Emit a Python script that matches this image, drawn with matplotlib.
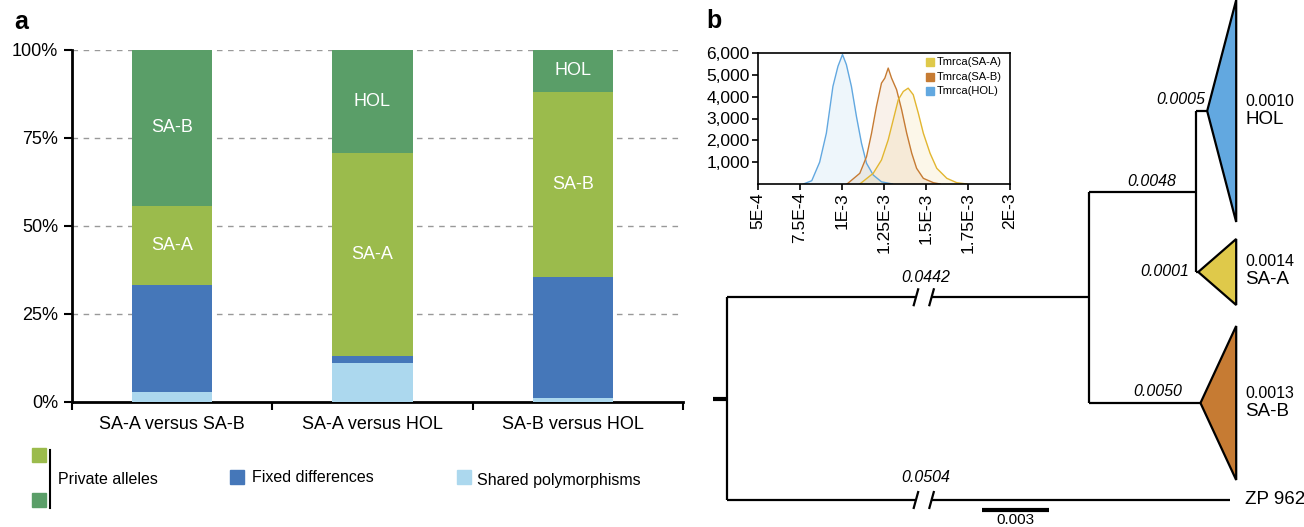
import matplotlib.pyplot as plt
from matplotlib.patches import Polygon, Rectangle

plt.rcParams['font.family'] = ['Liberation Sans', 'DejaVu Sans']

# --- panel a: share of sites per comparison (%) ---
comparisons = ['SA-A versus SA-B', 'SA-A versus HOL', 'SA-B versus HOL']
shared = [2.7, 11.2, 1.1]
fixed = [30.5, 1.9, 34.5]
private_low = [22.5, 57.5, 52.5]
private_high = [44.3, 29.4, 11.9]
low_names = ['SA-A', 'SA-A', 'SA-B']
high_names = ['SA-B', 'HOL', 'HOL']

# --- panel b inset: Tmrca posterior histograms ---
hol_t = [0.77e-3, 0.82e-3, 0.867e-3, 0.907e-3, 0.946e-3, 0.976e-3, 1.003e-3, 1.026e-3,
         1.056e-3, 1.086e-3, 1.116e-3, 1.146e-3, 1.186e-3, 1.235e-3, 1.30e-3]
hol_n = [0, 150, 1000, 2330, 4470, 5390, 5930, 5470, 4470, 3090, 1870, 950, 410, 100, 0]
sab_t = [1.03e-3, 1.106e-3, 1.146e-3, 1.176e-3, 1.205e-3, 1.235e-3, 1.255e-3, 1.275e-3,
         1.295e-3, 1.325e-3, 1.355e-3, 1.385e-3, 1.415e-3, 1.444e-3, 1.484e-3, 1.544e-3, 1.584e-3]
sab_n = [0, 490, 1250, 2330, 3550, 4620, 4850, 5310, 4850, 4320, 3400, 2330, 1410, 720, 260, 60, 0]
saa_t = [1.106e-3, 1.186e-3, 1.235e-3, 1.275e-3, 1.305e-3, 1.335e-3, 1.365e-3, 1.394e-3,
         1.424e-3, 1.454e-3, 1.484e-3, 1.524e-3, 1.564e-3, 1.624e-3, 1.683e-3, 1.743e-3]
saa_n = [0, 490, 1100, 2020, 2940, 3860, 4240, 4390, 4090, 3250, 2330, 1410, 720, 260, 60, 0]
hist_ticks = [5e-4, 7.5e-4, 1e-3, 1.25e-3, 1.5e-3, 1.75e-3, 2e-3]
hist_tick_labels = ['5E-4', '7.5E-4', '1E-3', '1.25E-3', '1.5E-3', '1.75E-3', '2E-3']
count_ticks = [1000, 2000, 3000, 4000, 5000, 6000]

# --- panel b tree: branch lengths and clade labels ---
len_ingroup = 0.0442
len_outgroup = 0.0504
len_hol_saa = 0.0048
len_sab = 0.0050
len_hol = 0.0005
len_saa = 0.0001
clades = ['HOL', 'SA-A', 'SA-B']
clade_div = ['0.0010', '0.0014', '0.0013']
outgroup = 'ZP 962'
scale_len = 0.003

c_dgreen = '#5a9e68'
c_lgreen = '#9bbb4c'
c_blue = '#4577b9'
c_lblue = '#acd8ee'
c_hol = '#62a8e0'
c_saa = '#dfc94a'
c_sab = '#c67b33'

fig = plt.figure(figsize=(13.04, 5.27), dpi=100)
W, H = 1304, 527

# ---------------- panel a ----------------
ax = fig.add_axes([72 / W, 1 - 402 / H, 611 / W, 352 / H])
x = range(len(comparisons))
bw = 0.4
b1 = shared
b2 = [s + f for s, f in zip(shared, fixed)]
b3 = [a + p for a, p in zip(b2, private_low)]
ax.bar(x, shared, bw, color=c_lblue, zorder=3)
ax.bar(x, fixed, bw, bottom=b1, color=c_blue, zorder=3)
ax.bar(x, private_low, bw, bottom=b2, color=c_lgreen, zorder=3)
ax.bar(x, private_high, bw, bottom=b3, color=c_dgreen, zorder=3)
for i in x:
    ax.text(i, b2[i] + private_low[i] / 2, low_names[i], color='white', ha='center', va='center',
            fontsize=13, zorder=4)
    ax.text(i, b3[i] + private_high[i] / 2, high_names[i], color='white', ha='center', va='center',
            fontsize=13, zorder=4)
ax.set_xlim(-0.5, 2.55)
ax.set_ylim(0, 100)
ax.set_yticks([0, 25, 50, 75, 100])
ax.set_yticklabels(['0%', '25%', '50%', '75%', '100%'], fontsize=13)
ax.set_xticks(list(x))
ax.set_xticklabels(comparisons, fontsize=13)
ax.set_xticks([-0.5, 0.5, 1.5, 2.55], minor=True)
ax.tick_params(axis='x', which='major', length=0, pad=10)
ax.tick_params(axis='x', which='minor', length=6, width=1.5, direction='out')
ax.tick_params(axis='y', length=6, width=1.5, pad=4)
for yv in [25, 50, 75, 100]:
    ax.axhline(yv, color='#999999', lw=1, ls=(0, (4, 4)), zorder=1)
for s in ['top', 'right']:
    ax.spines[s].set_visible(False)
ax.spines['left'].set_linewidth(2)
ax.spines['bottom'].set_linewidth(2)
ax.spines['left'].set_zorder(5)

# overlay in pixel coordinates for legend and panel letters
ov = fig.add_axes([0, 0, 1, 1], zorder=-1)
ov.set_xlim(0, W)
ov.set_ylim(H, 0)
ov.axis('off')
ov.add_patch(Rectangle((32, 448), 14, 14, color=c_lgreen))
ov.add_patch(Rectangle((32, 493), 14, 14, color=c_dgreen))
ov.plot([50, 50], [450, 508], color='black', lw=1.5)
ov.text(58, 479, 'Private alleles', fontsize=11.5, va='center')
ov.add_patch(Rectangle((230, 470), 14, 14, color=c_blue))
ov.text(252, 478, 'Fixed differences', fontsize=11.5, va='center')
ov.add_patch(Rectangle((457, 470), 14, 14, color=c_lblue))
ov.text(477, 481, 'Shared polymorphisms', fontsize=11.5, va='center')
ov.text(14, 22, 'a', fontsize=18, fontweight='bold', va='center')
ov.text(706, 21, 'b', fontsize=18, fontweight='bold', va='center')

# ---------------- panel b tree ----------------
tr = fig.add_axes([700 / W, 0, 604 / W, 1])
px_per_unit = 67 / scale_len
tr.set_xlim(-27 / px_per_unit, 577 / px_per_unit)
tr.set_ylim(H, 0)
tr.axis('off')

# layout (display) choices
disp_ingroup = 0.0162   # broken branch drawn shorter
disp_outgroup = 0.0225
tip_x = 0.0228
y_hol, y_saa, y_sab, y_zp = 111, 272, 403, 500
half_h = {'HOL': 111, 'SA-A': 33, 'SA-B': 77}
brk_a, brk_b = 0.00846, 0.00916
lw = 1.6

y_n1 = (y_hol + y_saa) / 2
y_in = (y_n1 + y_sab) / 2
y_root = (y_in + y_zp) / 2

x_in = disp_ingroup
x_n1 = x_in + len_hol_saa
x_hol = x_n1 + len_hol
x_saa = x_n1 + len_saa
x_sab = x_in + len_sab
x_zp = disp_outgroup

k = dict(color='black', lw=lw, solid_capstyle='butt')
tr.plot([-14 / px_per_unit, 0], [y_root, y_root], color='black', lw=3, solid_capstyle='butt')
tr.plot([0, 0], [y_in, y_zp], **k)
for yb, xe in [(y_in, x_in), (y_zp, x_zp)]:
    tr.plot([0, brk_a], [yb, yb], **k)
    tr.plot([brk_b, xe], [yb, yb], **k)
    for xb in (brk_a, brk_b):
        tr.plot([xb - 2.5 / px_per_unit, xb + 2.5 / px_per_unit], [yb + 9, yb - 9], **k)
tr.plot([x_in, x_in], [y_n1, y_sab], **k)
tr.plot([x_in, x_n1], [y_n1, y_n1], **k)
tr.plot([x_in, x_sab], [y_sab, y_sab], **k)
tr.plot([x_n1, x_n1], [y_hol, y_saa], **k)
tr.plot([x_n1, x_hol], [y_hol, y_hol], **k)
tr.plot([x_n1, x_saa], [y_saa, y_saa], **k)

for name, xa, ya, col in [('HOL', x_hol, y_hol, c_hol), ('SA-A', x_saa, y_saa, c_saa),
                          ('SA-B', x_sab, y_sab, c_sab)]:
    h = half_h[name]
    tr.add_patch(Polygon([(xa, ya), (tip_x, ya - h), (tip_x, ya + h)], closed=True,
                         facecolor=col, edgecolor='black', lw=lw, joinstyle='miter'))

tr.text((brk_a + brk_b) / 2 + 0.0001, y_in - 20, f'{len_ingroup:.4f}', style='italic', fontsize=11.5, ha='center', va='center')
tr.text((brk_a + brk_b) / 2 + 0.0001, y_zp - 22, f'{len_outgroup:.4f}', style='italic', fontsize=11.5, ha='center', va='center')
tr.text(x_n1 - 0.0009, y_n1 - 10, f'{len_hol_saa:.4f}', style='italic', fontsize=11.5, ha='right', va='center')
tr.text(x_sab - 0.0008, y_sab - 11, f'{len_sab:.4f}', style='italic', fontsize=11.5, ha='right', va='center')
tr.text(x_hol - 0.0001, y_hol - 11, f'{len_hol:.4f}', style='italic', fontsize=11.5, ha='right', va='center')
tr.text(x_saa - 0.0004, y_saa, f'{len_saa:.4f}', style='italic', fontsize=11.5, ha='right', va='center')

for name, yt, dv in zip(clades, [y_hol, y_saa, y_sab], clade_div):
    tr.text(tip_x + 0.0004, yt - 10, dv, fontsize=11.5, ha='left', va='center')
    tr.text(tip_x + 0.0004, yt + 8, name, fontsize=13.5, ha='left', va='center')
tr.text(x_zp + 0.00068, y_zp, outgroup, fontsize=13.5, ha='left', va='center')

sb_x = 0.01142
tr.plot([sb_x, sb_x + scale_len], [510, 510], color='black', lw=3, solid_capstyle='butt')
tr.text(sb_x + scale_len / 2, 520, f'{scale_len:.3f}', fontsize=11, ha='center', va='center')

# ---------------- panel b inset ----------------
ins = fig.add_axes([758 / W, 1 - 184 / H, 252 / W, 131 / H], zorder=5)
for t, n, col in [(hol_t, hol_n, c_hol), (sab_t, sab_n, c_sab), (saa_t, saa_n, '#e2b630')]:
    ins.fill_between(t, n, color=col, alpha=0.1, lw=0)
    ins.plot(t, n, color=col, lw=1)
ins.set_xlim(5e-4, 2e-3)
ins.set_ylim(0, 6000)
ins.set_xticks(hist_ticks)
ins.set_xticklabels(hist_tick_labels, rotation=90, fontsize=12.5)
ins.set_yticks(count_ticks)
ins.set_yticklabels([f'{v:,}' for v in count_ticks], fontsize=12.5)
ins.tick_params(length=4, width=1.2, pad=2)
for s in ins.spines.values():
    s.set_linewidth(1.2)
for lab, col, yy in [('Tmrca(SA-A)', c_saa, 5590), ('Tmrca(SA-B)', c_sab, 4900), ('Tmrca(HOL)', c_hol, 4260)]:
    ins.plot([1.524e-3], [yy], marker='s', ms=6, color=col, ls='none')
    ins.text(1.562e-3, yy, lab, fontsize=8, va='center')

fig.savefig('out.png', dpi=100)
